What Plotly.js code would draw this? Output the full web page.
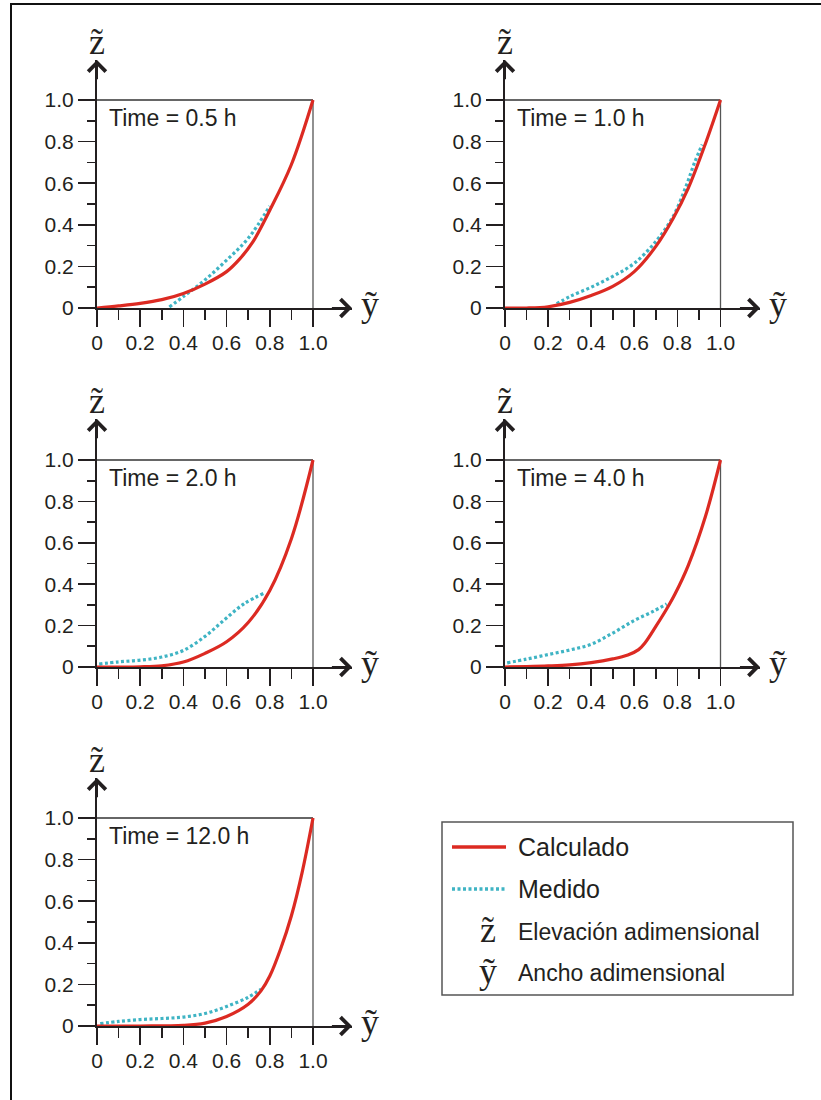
<!DOCTYPE html>
<html><head><meta charset="utf-8">
<script src="https://cdn.plot.ly/plotly-3.0.1.min.js"></script>
<style>html,body{margin:0;padding:0;background:#fff}</style>
</head><body><div id="chart" style="width:821px;height:1100px"></div>
<script>
// ---- data ----
const timeLabels = ['Time = 0.5 h', 'Time = 1.0 h', 'Time = 2.0 h', 'Time = 4.0 h', 'Time = 12.0 h'];
const tickVals = [0, 0.2, 0.4, 0.6, 0.8, 1.0];
const tickText = ['0', '0.2', '0.4', '0.6', '0.8', '1.0'];
const minorVals = [0.1, 0.3, 0.5, 0.7, 0.9];

const calc05_y = [0, 0.1, 0.2, 0.3, 0.4, 0.5, 0.6, 0.66, 0.72, 0.8, 0.9, 1.0];
const calc05_z = [0, 0.01, 0.022, 0.04, 0.07, 0.115, 0.175, 0.235, 0.315, 0.47, 0.69, 1.0];
const meas05_y = [0.335, 0.4, 0.5, 0.6, 0.7, 0.8];
const meas05_z = [0.005, 0.055, 0.135, 0.23, 0.335, 0.49];

const calc10_y = [0, 0.1, 0.2, 0.3, 0.4, 0.5, 0.6, 0.7, 0.78, 0.85, 0.93, 1.0];
const calc10_z = [0, 0, 0.006, 0.027, 0.06, 0.104, 0.175, 0.296, 0.43, 0.575, 0.79, 1.0];
const meas10_y = [0.24, 0.3, 0.4, 0.5, 0.6, 0.7, 0.78, 0.84, 0.88, 0.915];
const meas10_z = [0.02, 0.055, 0.1, 0.152, 0.215, 0.32, 0.44, 0.585, 0.7, 0.785];

const calc20_y = [0, 0.1, 0.2, 0.3, 0.4, 0.5, 0.6, 0.7, 0.8, 0.9, 1.0];
const calc20_z = [0, 0, 0.001, 0.006, 0.024, 0.066, 0.122, 0.215, 0.37, 0.62, 1.0];
const meas20_y = [0.01, 0.1, 0.2, 0.3, 0.4, 0.5, 0.59, 0.68, 0.78];
const meas20_z = [0.014, 0.025, 0.033, 0.048, 0.08, 0.148, 0.228, 0.305, 0.36];

const calc40_y = [0, 0.1, 0.2, 0.3, 0.4, 0.5, 0.57, 0.62, 0.65, 0.70, 0.75, 0.79, 0.85, 0.93, 1.0];
const calc40_z = [0, 0.002, 0.005, 0.01, 0.021, 0.039, 0.058, 0.084, 0.117, 0.196, 0.28, 0.355, 0.49, 0.727, 1.0];
const meas40_y = [0.01, 0.1, 0.2, 0.3, 0.4, 0.5, 0.6, 0.69, 0.75];
const meas40_z = [0.02, 0.038, 0.06, 0.082, 0.11, 0.164, 0.225, 0.27, 0.305];

const calc120_y = [0, 0.2, 0.4, 0.5, 0.6, 0.7, 0.76, 0.8, 0.85, 0.9, 0.95, 1.0];
const calc120_z = [0, 0, 0.003, 0.014, 0.046, 0.105, 0.17, 0.24, 0.37, 0.53, 0.74, 1.0];
const meas120_y = [0.015, 0.1, 0.2, 0.3, 0.4, 0.5, 0.6, 0.7, 0.76];
const meas120_z = [0.011, 0.022, 0.031, 0.036, 0.043, 0.06, 0.094, 0.138, 0.178];

const seriesNames = ['Calculado', 'Medido'];
const legendLabels = ['Calculado', 'Medido', 'Elevación adimensional', 'Ancho adimensional'];
const zSymbol = 'z\u0303';
const ySymbol = '\u1EF9';

const calcY = [calc05_y, calc10_y, calc20_y, calc40_y, calc120_y];
const calcZ = [calc05_z, calc10_z, calc20_z, calc40_z, calc120_z];
const measY = [meas05_y, meas10_y, meas20_y, meas40_y, meas120_y];
const measZ = [meas05_z, meas10_z, meas20_z, meas40_z, meas120_z];

// ---- layout geometry ----
const W = 821, H = 1100;
const px = v => v / W, py = v => 1 - v / H;
const colX0 = [97, 505], colUnit = [216, 215.5];
const rowY0 = [308, 667, 1026], rowUnit = [208, 207, 208];
const xExt = 255, yExt = 248;
const panels = [{c:0,r:0},{c:1,r:0},{c:0,r:1},{c:1,r:1},{c:0,r:2}];

const RED = '#dc2a22', TEAL = '#3fb4c4', INK = '#231f20';
const SANS = 'Liberation Sans, Arial, sans-serif';
const SERIF = 'Liberation Serif, Times New Roman, serif';

const traces = [], shapes = [], annotations = [];
const layout = {
  width: W, height: H, margin: {l:0, r:0, t:0, b:0},
  paper_bgcolor: '#fff', plot_bgcolor: 'rgba(0,0,0,0)', showlegend: false,
  font: {family: SANS, color: INK}
};

panels.forEach((p, i) => {
  const n = i === 0 ? '' : String(i + 1);
  const xa = 'x' + n, ya = 'y' + n;
  const x0 = colX0[p.c], ux = colUnit[p.c];
  const y0 = rowY0[p.r], uy = rowUnit[p.r];
  const xmax = xExt / ux, ymax = yExt / uy;
  const common = {
    showline: true, linewidth: 2, linecolor: INK, showgrid: false, zeroline: false,
    ticks: 'outside', ticklen: 17, tickwidth: 1.6, tickcolor: INK,
    tickmode: 'array', tickvals: tickVals, ticktext: tickText,
    tickfont: {family: SANS, size: 21, color: INK}, fixedrange: true
  };
  layout['xaxis' + n] = Object.assign({}, common, {
    domain: [px(x0), px(x0 + xExt)], range: [0, xmax], anchor: ya,
    ticklabelstandoff: -2,
    minor: {tickmode: 'array', tickvals: minorVals, ticks: 'outside', ticklen: 10, tickwidth: 1.6, tickcolor: INK}
  });
  layout['yaxis' + n] = Object.assign({}, common, {
    domain: [py(y0), py(y0 - yExt)], range: [0, ymax], anchor: xa,
    minor: {tickmode: 'array', tickvals: minorVals, ticks: 'outside', ticklen: 8, tickwidth: 1.6, tickcolor: INK}
  });

  traces.push({
    type: 'scatter', mode: 'lines', name: seriesNames[1], x: measY[i], y: measZ[i],
    xaxis: xa, yaxis: ya, line: {color: TEAL, width: 3.2, dash: '3px,2.5px', shape: 'spline', smoothing: 1},
    hoverinfo: 'skip'
  });
  traces.push({
    type: 'scatter', mode: 'lines', name: seriesNames[0], x: calcY[i], y: calcZ[i],
    xaxis: xa, yaxis: ya, line: {color: RED, width: 3.2, shape: 'spline', smoothing: 1},
    hoverinfo: 'skip'
  });

  // frame (top & right at 1.0)
  shapes.push({type: 'line', xref: xa, yref: ya, x0: 0, x1: 1, y0: 1, y1: 1, line: {color: '#333', width: 1.3}, layer: 'below'});
  shapes.push({type: 'line', xref: xa, yref: ya, x0: 1, x1: 1, y0: 0, y1: 1, line: {color: '#555', width: 1.3}, layer: 'below'});

  // axis arrows
  annotations.push({xref: xa, yref: ya, axref: xa, ayref: ya, x: xmax, y: 0, ax: xmax - 0.1, ay: 0,
    text: '', showarrow: true, arrowhead: 4, arrowsize: 1.7, arrowwidth: 2, arrowcolor: INK, standoff: 0, startstandoff: 0});
  annotations.push({xref: xa, yref: ya, axref: xa, ayref: ya, x: 0, y: ymax, ax: 0, ay: ymax - 0.1,
    text: '', showarrow: true, arrowhead: 4, arrowsize: 1.7, arrowwidth: 2, arrowcolor: INK, standoff: 0, startstandoff: 0});

  // axis symbols
  annotations.push({xref: 'paper', yref: 'paper', x: px(x0), y: py(y0 - yExt - 18), text: zSymbol,
    showarrow: false, xanchor: 'center', yanchor: 'middle', font: {family: SERIF, size: 36, color: INK}});
  annotations.push({xref: 'paper', yref: 'paper', x: px(x0 + xExt + 18), y: py(y0 - 4), text: ySymbol,
    showarrow: false, xanchor: 'center', yanchor: 'middle', font: {family: SERIF, size: 36, color: INK}});

  // time label
  annotations.push({xref: 'paper', yref: 'paper', x: px(x0 + 10), y: py(y0 - uy + 18), text: timeLabels[i],
    showarrow: false, xanchor: 'left', yanchor: 'middle', font: {family: SANS, size: 23, color: INK}});
});

// outer border (top & left visible)
shapes.push({type: 'rect', xref: 'paper', yref: 'paper', x0: px(11), x1: px(840), y0: py(4), y1: py(1120),
  line: {color: '#111', width: 2}, fillcolor: 'rgba(0,0,0,0)'});

// legend box
shapes.push({type: 'rect', xref: 'paper', yref: 'paper', x0: px(442), x1: px(793), y0: py(822), y1: py(995),
  line: {color: '#555', width: 1.5}, fillcolor: 'rgba(0,0,0,0)'});
shapes.push({type: 'line', xref: 'paper', yref: 'paper', x0: px(452), x1: px(506), y0: py(847), y1: py(847),
  line: {color: RED, width: 3.5}});
shapes.push({type: 'line', xref: 'paper', yref: 'paper', x0: px(452), x1: px(506), y0: py(889), y1: py(889),
  line: {color: TEAL, width: 3.5, dash: '3px,2.5px'}});
const legRows = [847, 889, 932, 973];
const legSizes = [25, 25, 23, 23];
legendLabels.forEach((t, k) => {
  annotations.push({xref: 'paper', yref: 'paper', x: px(516), y: py(legRows[k]), text: t, showarrow: false,
    xanchor: 'left', yanchor: 'middle', font: {family: SANS, size: legSizes[k], color: INK}});
});
annotations.push({xref: 'paper', yref: 'paper', x: px(488), y: py(930), text: zSymbol, showarrow: false,
  xanchor: 'center', yanchor: 'middle', font: {family: SERIF, size: 36, color: INK}});
annotations.push({xref: 'paper', yref: 'paper', x: px(488), y: py(971), text: ySymbol, showarrow: false,
  xanchor: 'center', yanchor: 'middle', font: {family: SERIF, size: 36, color: INK}});

layout.shapes = shapes;
layout.annotations = annotations;

Plotly.newPlot('chart', traces, layout, {staticPlot: true, displayModeBar: false});
</script>
</body></html>
